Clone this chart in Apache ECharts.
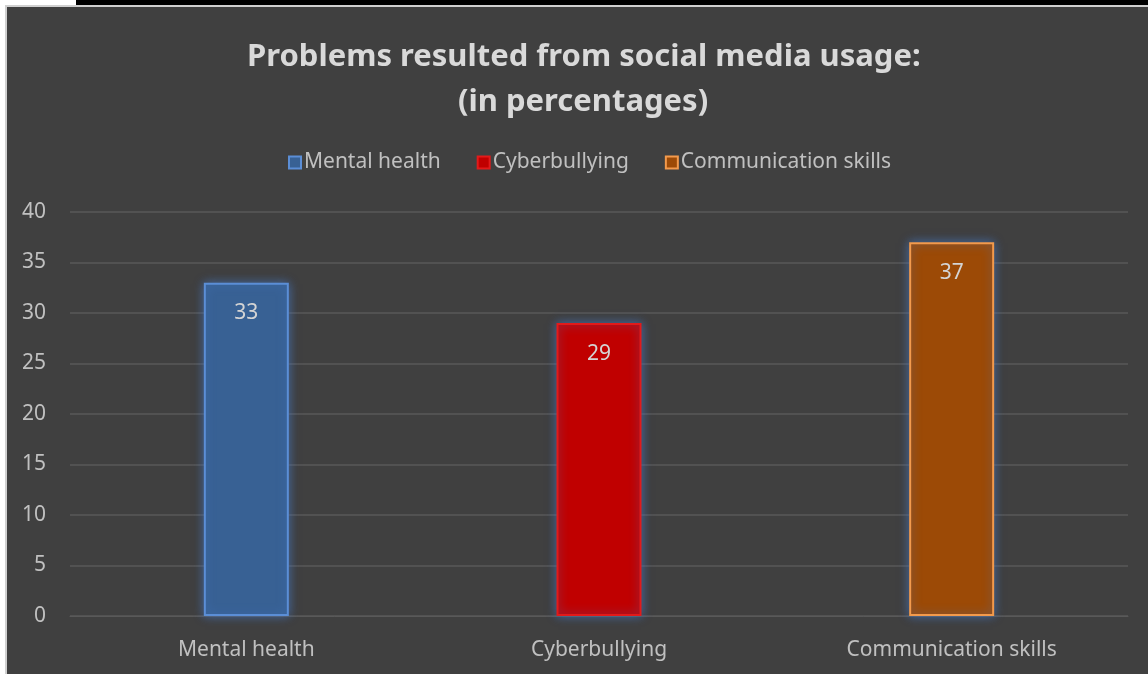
<!DOCTYPE html>
<html>
<head>
<meta charset="utf-8">
<script src="https://cdn.jsdelivr.net/npm/echarts@6/dist/echarts.min.js"></script>
<style>
html,body{margin:0;padding:0;background:#ffffff;width:1148px;height:674px;overflow:hidden;}
#topbar{position:absolute;left:76px;top:0;width:1072px;height:5px;background:#000;}
#edge{position:absolute;left:5px;top:5px;width:1143px;height:669px;background:#d0d0d0;}
#panel{position:absolute;left:7px;top:7px;width:1141px;height:667px;background:#404040;}
#chart{position:absolute;left:0;top:0;width:1148px;height:674px;}
</style>
</head>
<body>
<div id="topbar"></div>
<div id="edge"></div>
<div id="panel"></div>
<div id="chart"></div>
<script>
const titleLines = ['Problems resulted from social media usage:', '(in percentages)'];
const categories = ['Mental health', 'Cyberbullying', 'Communication skills'];
const seriesNames = ['Mental health', 'Cyberbullying', 'Communication skills'];
const values = [33, 29, 37];
const yTicks = [0, 5, 10, 15, 20, 25, 30, 35, 40];
const fillColors = ['#386194', '#c00000', '#9c4a06'];
const borderColors = ['#5b8ed6', '#e21a1a', '#f39a4c'];

const chart = echarts.init(document.getElementById('chart'));
const font = 'Noto Sans';
const series = seriesNames.map((name, i) => ({
  name: name,
  type: 'bar',
  barWidth: 85,
  barGap: '-100%',
  data: categories.map((c, j) => j === i ? values[i] : null),
  itemStyle: {
    color: fillColors[i],
    borderColor: borderColors[i],
    borderWidth: 2,
    shadowColor: 'rgba(70,120,200,0.7)',
    shadowBlur: 10
  },
  label: {
    show: true,
    position: 'insideTop',
    distance: 20,
    color: '#d4d4d4',
    fontSize: 21,
    fontFamily: font
  }
}));

const titleStyle = {
  color: '#d9d9d9',
  fontSize: 31,
  fontWeight: 'bold',
  fontFamily: font,
  lineHeight: 45
};

chart.setOption({
  animation: false,
  title: [
    { text: titleLines[0], left: 242, top: 30, textStyle: titleStyle },
    { text: titleLines[1], left: 453, top: 75, textStyle: titleStyle }
  ],
  legend: {
    data: seriesNames,
    top: 147,
    left: 283,
    itemWidth: 12,
    itemHeight: 12,
    itemGap: 36,
    icon: 'rect',
    textStyle: { color: '#c0c0c0', fontSize: 21, fontFamily: font, padding: [0, 0, 0, -2] },
    itemStyle: { borderWidth: 2 }
  },
  grid: { left: 70, right: 20, top: 212, bottom: 58, containLabel: false },
  xAxis: {
    type: 'category',
    data: categories,
    axisLine: { show: true, lineStyle: { color: '#595959', width: 1 } },
    axisTick: { show: false },
    axisLabel: { color: '#c0c0c0', fontSize: 21, fontFamily: font, margin: 24 }
  },
  yAxis: {
    type: 'value',
    min: yTicks[0],
    max: yTicks[yTicks.length - 1],
    interval: 5,
    axisLine: { show: false },
    axisTick: { show: false },
    splitLine: { lineStyle: { color: '#585858', width: 1.5 } },
    axisLabel: { color: '#c0c0c0', fontSize: 21, fontFamily: font, align: 'right', margin: 24 }
  },
  series: series
});
</script>
</body>
</html>
